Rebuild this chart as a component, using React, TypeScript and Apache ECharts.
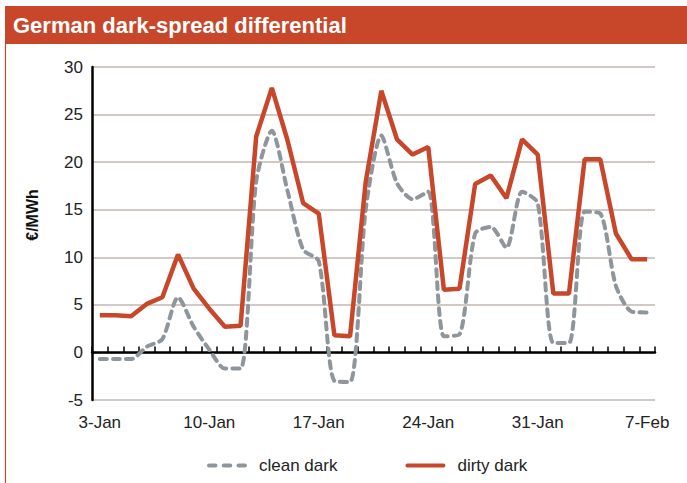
import React, { useEffect, useRef } from "react";
import * as echarts from "echarts";

const dates = [
  "3-Jan", "4-Jan", "5-Jan", "6-Jan", "7-Jan", "8-Jan", "9-Jan", "10-Jan", "11-Jan", "12-Jan",
  "13-Jan", "14-Jan", "15-Jan", "16-Jan", "17-Jan", "18-Jan", "19-Jan", "20-Jan", "21-Jan", "22-Jan",
  "23-Jan", "24-Jan", "25-Jan", "26-Jan", "27-Jan", "28-Jan", "29-Jan", "30-Jan", "31-Jan", "1-Feb",
  "2-Feb", "3-Feb", "4-Feb", "5-Feb", "6-Feb", "7-Feb",
];

const cleanDark = [
  -0.7, -0.7, -0.7, 0.6, 1.4, 5.8, 2.7, 0.3, -1.7, -1.7,
  18.0, 23.3, 17.0, 10.8, 9.6, -3.0, -3.1, 15.0, 22.8, 17.8,
  16.1, 16.9, 1.7, 1.9, 12.5, 13.2, 11.0, 16.9, 15.7, 1.0,
  1.0, 14.8, 14.6, 7.0, 4.3, 4.2,
];

const dirtyDark = [
  3.9, 3.9, 3.8, 5.1, 5.8, 10.3, 6.7, 4.6, 2.7, 2.8,
  22.7, 27.8, 22.3, 15.7, 14.6, 1.8, 1.7, 17.9, 27.5, 22.4,
  20.8, 21.6, 6.6, 6.7, 17.7, 18.6, 16.2, 22.4, 20.8, 6.2,
  6.2, 20.3, 20.3, 12.5, 9.8, 9.8,
];

const seriesNames = ["clean dark", "dirty dark"];
const titleText = "German dark-spread differential";
const unitText = "€/MWh";

const RED = "#C8472A";
const GREY = "#8E959B";
const FONT = "'Liberation Sans', Arial, sans-serif";

const dashIcon =
  "path://M2,0h6a2,2 0 0 1 0,4h-6a2,2 0 0 1 0,-4z" +
  "M16,0h6a2,2 0 0 1 0,4h-6a2,2 0 0 1 0,-4z" +
  "M30,0h6a2,2 0 0 1 0,4h-6a2,2 0 0 1 0,-4z";
const solidIcon = "path://M2,0h38a2,2 0 0 1 0,4h-38a2,2 0 0 1 0,-4z";

export default function App() {
  const ref = useRef<HTMLDivElement>(null);

  useEffect(() => {
    if (!ref.current) return;
    const chart = echarts.init(ref.current, undefined, { renderer: "svg" });
    chart.setOption({
      animation: false,
      backgroundColor: "#ffffff",
      textStyle: { fontFamily: FONT },
      grid: { left: 92, right: 32, top: 67, bottom: 83, containLabel: false },
      graphic: [
        {
          type: "rect",
          shape: { x: 5, y: 6, width: 682, height: 38 },
          style: { fill: RED },
          silent: true,
        },
        {
          type: "line",
          shape: { x1: 5.5, y1: 44, x2: 5.5, y2: 483 },
          style: { stroke: RED, lineWidth: 1.2 },
          silent: true,
        },
        {
          type: "text",
          x: 13,
          y: 25,
          style: {
            text: titleText,
            fill: "#ffffff",
            font: `bold 22px ${FONT}`,
            verticalAlign: "middle",
          },
          silent: true,
        },
        {
          type: "text",
          x: 32,
          y: 215,
          rotation: Math.PI / 2,
          style: {
            text: unitText,
            fill: "#111111",
            font: `bold 16px ${FONT}`,
            align: "center",
            verticalAlign: "middle",
          },
          silent: true,
        },
      ],
      legend: {
        data: [
          { name: seriesNames[0], icon: dashIcon, itemStyle: { color: GREY } },
          { name: seriesNames[1], icon: solidIcon, itemStyle: { color: RED } },
        ],
        left: 202,
        top: 452,
        itemWidth: 40,
        itemHeight: 5,
        itemGap: 68,
        textStyle: { fontSize: 17, color: "#222222", fontFamily: FONT, padding: [0, 0, 0, 7] },
      },
      xAxis: [
        {
          type: "category",
          data: dates,
          boundaryGap: true,
          position: "bottom",
          axisLine: { show: true, onZero: true, lineStyle: { color: "#000000", width: 2.5 } },
          axisTick: { show: true, inside: true, interval: 0, length: 6, lineStyle: { color: "#000000", width: 1.5 } },
          axisLabel: { show: false },
          splitLine: { show: false },
        },
        {
          type: "category",
          data: dates,
          boundaryGap: true,
          position: "bottom",
          axisLine: { show: false, onZero: false },
          axisTick: { show: false },
          axisLabel: { show: true, interval: 6, margin: 14, fontSize: 17, color: "#222222", fontFamily: FONT },
          splitLine: { show: false },
        },
      ],
      yAxis: {
        type: "value",
        min: -5,
        max: 30,
        interval: 5,
        axisLine: { show: true, lineStyle: { color: "#000000", width: 2.5 } },
        axisTick: { show: false },
        axisLabel: { fontSize: 17, color: "#222222", margin: 9, fontFamily: FONT },
        splitLine: { show: true, lineStyle: { color: "#D0C9C6", width: 2 } },
      },
      series: [
        {
          name: seriesNames[0],
          type: "line",
          xAxisIndex: 0,
          data: cleanDark,
          symbol: "none",
          smooth: 0.25,
          color: GREY,
          lineStyle: { color: GREY, width: 4, type: [7, 6], cap: "round" },
        },
        {
          name: seriesNames[1],
          type: "line",
          xAxisIndex: 0,
          data: dirtyDark,
          symbol: "none",
          color: RED,
          lineStyle: { color: RED, width: 4.5 },
        },
      ],
    });
    return () => chart.dispose();
  }, []);

  return (
    <div
      ref={ref}
      style={{ position: "fixed", left: 0, top: 0, width: 687, height: 483 }}
    />
  );
}
